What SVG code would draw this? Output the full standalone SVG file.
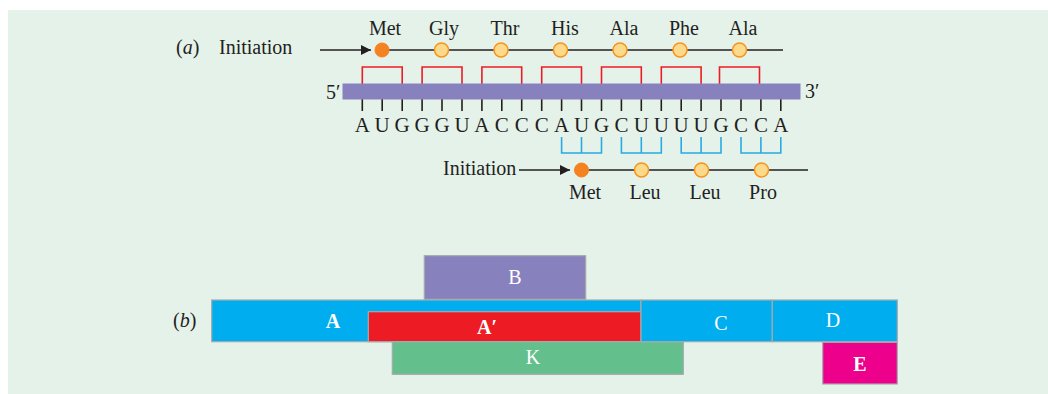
<svg xmlns="http://www.w3.org/2000/svg" width="1048" height="394" viewBox="0 0 1048 394">
<defs>
<style>
.t{font-family:"Liberation Serif","Times New Roman",serif;font-size:20px;fill:#231f20}
.c{text-anchor:middle}
.bs{font-size:21px}
.w{font-family:"Liberation Serif","Times New Roman",serif;font-size:20px;fill:#ffffff;text-anchor:middle}
.b{font-weight:bold}
.ln{stroke:#231f20;stroke-width:1.6;fill:none}
.rb{stroke:#ed1c24;stroke-width:1.6;fill:none}
.bb{stroke:#29abe2;stroke-width:1.6;fill:none}
.aa{fill:#fdd98a;stroke:#f7941d;stroke-width:1.5}
.met{fill:#f58220;stroke:#f58220;stroke-width:1}
.box{stroke:#a7a9ac;stroke-width:1.2}
</style>
<marker id="ah" viewBox="0 0 10 10" refX="10" refY="5" markerWidth="10" markerHeight="10" markerUnits="userSpaceOnUse" orient="auto">
<path d="M0,0 L10,5 L0,10 Z" fill="#231f20"/>
</marker>
</defs>
<rect x="8" y="10" width="1040" height="384" fill="#e5f2ea"/>

<g id="label-a"><text class="t" x="176" y="54"><tspan>(</tspan><tspan font-style="italic">a</tspan><tspan>)</tspan></text>
<text class="t" x="219" y="54">Initiation</text></g>

<g id="connectors">
<line class="ln" x1="320" y1="50" x2="371" y2="50" marker-end="url(#ah)"/>
<line class="ln" x1="382" y1="50" x2="783" y2="50"/>
<line class="ln" x1="519" y1="170" x2="570" y2="170" marker-end="url(#ah)"/>
<line class="ln" x1="582" y1="170" x2="808" y2="170"/>
<g id="red-brackets">
<path class="rb" d="M362.3,84 V67 H402.2 V84"/>
<path class="rb" d="M422.1,84 V67 H462.0 V84"/>
<path class="rb" d="M481.9,84 V67 H521.7 V84"/>
<path class="rb" d="M541.7,84 V67 H581.5 V84"/>
<path class="rb" d="M601.5,84 V67 H641.3 V84"/>
<path class="rb" d="M661.3,84 V67 H701.1 V84"/>
<path class="rb" d="M719.5,84 V67 H759.5 V84"/>
</g>
<g id="blue-brackets">
<path class="bb" d="M561.6,137 V153 H601.5 V137 M581.5,137 V153"/>
<path class="bb" d="M621.4,137 V153 H661.3 V137 M641.3,137 V153"/>
<path class="bb" d="M681.2,137 V153 H721.0 V137 M701.1,137 V153"/>
<path class="bb" d="M741.0,137 V153 H780.8 V137 M760.9,137 V153"/>
</g>
<g id="ticks" stroke="#231f20" stroke-width="1.6">
<line x1="362.3" y1="99" x2="362.3" y2="111"/><line x1="382.2" y1="99" x2="382.2" y2="111"/>
<line x1="402.2" y1="99" x2="402.2" y2="111"/><line x1="422.1" y1="99" x2="422.1" y2="111"/>
<line x1="442.0" y1="99" x2="442.0" y2="111"/><line x1="462.0" y1="99" x2="462.0" y2="111"/>
<line x1="481.9" y1="99" x2="481.9" y2="111"/><line x1="501.8" y1="99" x2="501.8" y2="111"/>
<line x1="521.7" y1="99" x2="521.7" y2="111"/><line x1="541.7" y1="99" x2="541.7" y2="111"/>
<line x1="561.6" y1="99" x2="561.6" y2="111"/><line x1="581.5" y1="99" x2="581.5" y2="111"/>
<line x1="601.5" y1="99" x2="601.5" y2="111"/><line x1="621.4" y1="99" x2="621.4" y2="111"/>
<line x1="641.3" y1="99" x2="641.3" y2="111"/><line x1="661.3" y1="99" x2="661.3" y2="111"/>
<line x1="681.2" y1="99" x2="681.2" y2="111"/><line x1="701.1" y1="99" x2="701.1" y2="111"/>
<line x1="721.0" y1="99" x2="721.0" y2="111"/><line x1="741.0" y1="99" x2="741.0" y2="111"/>
<line x1="760.9" y1="99" x2="760.9" y2="111"/><line x1="780.8" y1="99" x2="780.8" y2="111"/>
</g>
</g>

<g id="mrna">
<rect x="342.5" y="83.5" width="458" height="16" fill="#8781bd"/>
<text class="t" x="326" y="99">5′</text>
<text class="t" x="805" y="98">3′</text>
</g>

<g id="bases" class="t c bs">
<text x="362.3" y="132">A</text><text x="382.2" y="132">U</text><text x="402.2" y="132">G</text>
<text x="422.1" y="132">G</text><text x="442.0" y="132">G</text><text x="462.0" y="132">U</text>
<text x="481.9" y="132">A</text><text x="501.8" y="132">C</text><text x="521.7" y="132">C</text>
<text x="541.7" y="132">C</text><text x="561.6" y="132">A</text><text x="581.5" y="132">U</text>
<text x="601.5" y="132">G</text><text x="621.4" y="132">C</text><text x="641.3" y="132">U</text>
<text x="661.3" y="132">U</text><text x="681.2" y="132">U</text><text x="701.1" y="132">U</text>
<text x="721.0" y="132">G</text><text x="741.0" y="132">C</text><text x="760.9" y="132">C</text>
<text x="780.8" y="132">A</text>
</g>

<g id="chain-top">
<circle class="met" cx="382" cy="50" r="7"/>
<circle class="aa" cx="441.5" cy="50" r="7"/>
<circle class="aa" cx="501" cy="50" r="7"/>
<circle class="aa" cx="560.5" cy="50" r="7"/>
<circle class="aa" cx="620" cy="50" r="7"/>
<circle class="aa" cx="680" cy="50" r="7"/>
<circle class="aa" cx="739.5" cy="50" r="7"/>
<g class="t c">
<text x="385" y="35">Met</text><text x="444" y="35">Gly</text><text x="505" y="35">Thr</text>
<text x="565" y="35">His</text><text x="624" y="35">Ala</text><text x="684" y="35">Phe</text>
<text x="743" y="35">Ala</text>
</g>
</g>

<g id="chain-bottom">
<text class="t" x="443" y="175">Initiation</text>
<circle class="met" cx="581.5" cy="170" r="7"/>
<circle class="aa" cx="641.5" cy="170" r="7"/>
<circle class="aa" cx="701.5" cy="170" r="7"/>
<circle class="aa" cx="761.5" cy="170" r="7"/>
<g class="t c">
<text x="585" y="199">Met</text><text x="645" y="199">Leu</text>
<text x="705" y="199">Leu</text><text x="763" y="199">Pro</text>
</g>
</g>

<g id="label-b"><text class="t" x="173" y="327"><tspan>(</tspan><tspan font-style="italic">b</tspan><tspan>)</tspan></text></g>

<g id="node-B"><rect class="box" x="424.3" y="255.7" width="161.4" height="43.6" fill="#8781bd"/><text class="w" x="515" y="284">B</text></g>
<g id="node-A"><rect class="box" x="211.7" y="300" width="429.3" height="41.7" fill="#00aeef"/><text class="w b" x="333" y="328">A</text></g>
<g id="node-A-prime"><rect class="box" x="368.3" y="311.7" width="272.7" height="30" fill="#ed1c24"/><text class="w b" x="487" y="334">A′</text></g>
<g id="node-K"><rect class="box" x="392.3" y="341.7" width="291" height="32.6" fill="#63c08d"/><text class="w" x="533" y="364">K</text></g>
<g id="node-C"><rect class="box" x="641" y="300" width="131.3" height="41.7" fill="#00aeef"/><text class="w" x="721" y="330">C</text></g>
<g id="node-D"><rect class="box" x="772.3" y="300" width="125" height="41.7" fill="#00aeef"/><text class="w" x="833" y="327">D</text></g>
<g id="node-E"><rect class="box" x="822.7" y="342.3" width="74.6" height="41.7" fill="#ec008c"/><text class="w b" x="860" y="371">E</text></g>
</svg>
